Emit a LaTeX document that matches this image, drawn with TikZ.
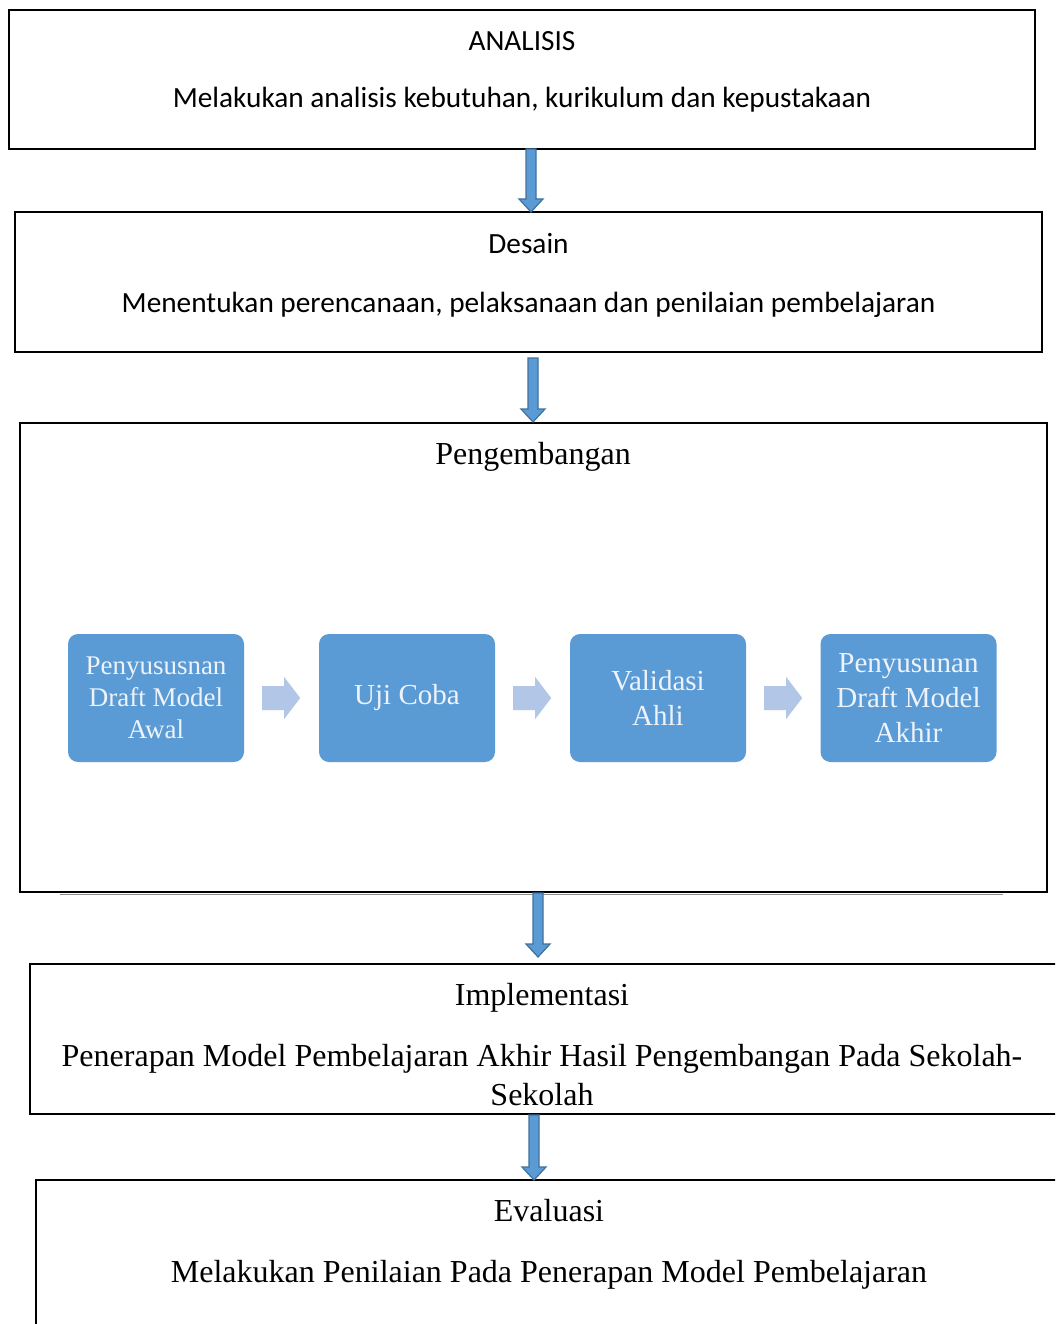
\documentclass[tikz,border=0pt]{standalone}
\usepackage{fontspec}
\setmainfont{Liberation Serif}
\newfontfamily\calibri{Carlito}
\usetikzlibrary{calc}
\definecolor{blueA}{RGB}{91,155,213}
\definecolor{blueEdge}{RGB}{65,113,156}
\definecolor{chevC}{RGB}{178,199,232}
\definecolor{txtW}{RGB}{238,243,250}
\begin{document}
\begin{tikzpicture}[x=1pt,y=-1pt,
  frame/.style={draw=black, line width=1.3pt, inner sep=0pt, outer sep=0pt},
  cal/.style={anchor=base, inner sep=0pt, font=\calibri\fontsize{29.3}{35}\selectfont},
  tms/.style={anchor=base, inner sep=0pt, font=\fontsize{32}{39}\selectfont},
  ibox/.style={fill=blueA, draw=none, rounded corners=10pt, minimum width=176pt,
    minimum height=128pt, inner sep=0pt, align=center, text=txtW,
    font=\fontsize{29}{35}\selectfont},
  darr/.style n args={3}{fill=blueA, draw=blueEdge, line width=1.2pt, to path={
    let \p1=($(\tikztostart.south)+(#1,0)$), \p2=(\tikztotarget.north) in
    ({\x1-5pt},{\y1-#2}) -- ({\x1-5pt},{\y2+#3+13pt}) -- ({\x1-12pt},{\y2+#3+13pt})
    -- ({\x1},{\y2+#3}) -- ({\x1+12pt},{\y2+#3+13pt}) -- ({\x1+5pt},{\y2+#3+13pt})
    -- ({\x1+5pt},{\y1-#2}) -- cycle}},
  chev/.style={fill=chevC, draw=none, to path={
    ($(\tikztostart.east)+(18,-12)$) -- ++(22,0) -- ++(0,-9) -- ++(16,21)
    -- ++(-16,21) -- ++(0,-9) -- ++(-22,0) -- cycle}}
]
\useasboundingbox (0,0) rectangle (1055,1324);
\clip (0,0) rectangle (1055,1324);
\fill[white] (0,0) rectangle (1055,1324);

% main boxes
\node[frame, minimum width=1026pt, minimum height=139pt] (b1) at (522,79.5) {};
\node[frame, minimum width=1027pt, minimum height=140pt] (b2) at (528.5,282) {};
\node[frame, minimum width=1027pt, minimum height=469pt] (b3) at (533.5,657.5) {};
\node[frame, minimum width=1032pt, minimum height=150pt] (b4) at (546,1039) {};
\node[frame, minimum width=1026pt, minimum height=170pt] (b5) at (549,1265) {};

\draw[black!45, line width=1pt] ($(b3.south west)+(40,2)$) -- ($(b3.south east)+(-44,2)$);

% texts
\node[cal] (t1a) at (522,51) {ANALISIS};
\node[cal] (t1b) at (522,108) {Melakukan analisis kebutuhan, kurikulum dan kepustakaan};
\node[cal] (t2a) at (528.5,254) {Desain};
\node[cal] (t2b) at (528.5,312) {Menentukan perencanaan, pelaksanaan dan penilaian pembelajaran};
\node[tms] (t3a) at (533,464) {Pengembangan};
\node[tms] (t4a) at (542,1005) {Implementasi};
\node[tms] (t4b) at (542,1066) {Penerapan Model Pembelajaran Akhir Hasil Pengembangan Pada Sekolah-};
\node[tms] (t4c) at (542,1105) {Sekolah};
\node[tms] (t5a) at (549,1221) {Evaluasi};
\node[tms] (t5b) at (549,1282) {Melakukan Penilaian Pada Penerapan Model Pembelajaran};

% inner process boxes
\node[ibox, font=\fontsize{27}{32}\selectfont] (p1) at (156,698) {Penyususnan\\Draft Model\\Awal};
\node[ibox] (p2) at (407,698) {Uji Coba};
\node[ibox] (p3) at (658,698) {Validasi\\Ahli};
\node[ibox] (p4) at (908.5,698) {Penyusunan\\Draft Model\\Akhir};

\draw[chev] (p1) to (p2);
\draw[chev] (p2) to (p3);
\draw[chev] (p3) to (p4);

% down arrows
\draw[darr={9}{0pt}{0pt}] (b1) to (b2);
\draw[darr={4.5}{6pt}{1pt}] (b2) to (b3);
\draw[darr={4.5}{1pt}{7pt}] (b3) to (b4);
\draw[darr={-12}{1pt}{0pt}] (b4) to (b5);
\end{tikzpicture}
\end{document}
